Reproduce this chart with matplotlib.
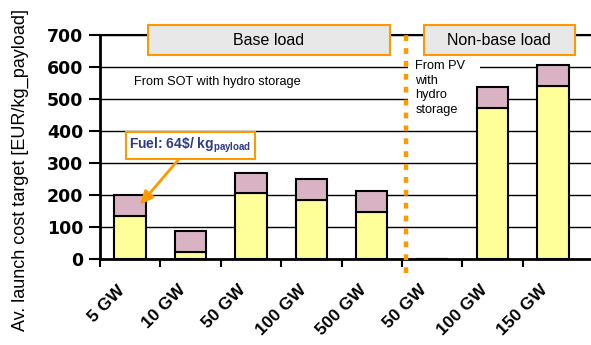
import matplotlib
matplotlib.use("Agg")
import matplotlib.pyplot as plt
from matplotlib.patches import Rectangle
from matplotlib.transforms import ScaledTranslation

plt.rcParams["font.family"] = ["Liberation Sans", "DejaVu Sans"]
plt.rcParams["mathtext.fontset"] = "custom"
plt.rcParams["mathtext.rm"] = "Liberation Sans"
plt.rcParams["mathtext.bf"] = "Liberation Sans:bold"

# Launch cost target per scenario (EUR/kg payload)
categories = ["5 GW", "10 GW", "50 GW", "100 GW", "500 GW", "50 GW", "100 GW", "150 GW"]
base_part = [135, 23, 205, 185, 148, 0, 473, 541]
fuel_part = [64, 64, 64, 64, 64, 0, 64, 64]
y_ticks = [0, 100, 200, 300, 400, 500, 600, 700]

orange = "#ff9900"
yellow = "#ffff99"
pink = "#d9b3c4"

fig = plt.figure(figsize=(5.91, 3.45), dpi=100)
ax = fig.add_axes([100 / 591, 1 - 259 / 345, 491 / 591, 224 / 345])

x = list(range(len(categories)))
ax.bar(x, base_part, width=0.52, color=yellow, edgecolor="black", linewidth=1.5, zorder=3)
ax.bar(x, fuel_part, width=0.52, bottom=base_part, color=pink, edgecolor="black",
       linewidth=1.5, zorder=3)

ax.set_xlim(-0.5, 7.63)
ax.set_ylim(0, 700)
ax.set_yticks(y_ticks)
ax.set_yticklabels([str(v) for v in y_ticks], fontsize=12.5, fontweight="bold",
                   family="DejaVu Sans")
ax.yaxis.grid(True, color="black", linewidth=1.0, zorder=0)
ax.set_axisbelow(True)

# category boundaries carry the tick marks, centres carry the labels
ax.set_xticks([i - 0.5 for i in range(8)])
ax.set_xticklabels([])
ax.set_xticks(x, minor=True)
ax.set_xticklabels(categories, minor=True, fontsize=12.5, fontweight="bold",
                   rotation=45, ha="right", va="top", rotation_mode="anchor")
ax.tick_params(axis="x", which="major", length=6, width=1.5, direction="out")
ax.tick_params(axis="x", which="minor", length=0, pad=17)
ax.tick_params(axis="y", length=8, width=1.5, pad=4)
shift = ScaledTranslation(-0.13, 0, fig.dpi_scale_trans)
for lbl in ax.get_xticklabels(minor=True):
    lbl.set_transform(lbl.get_transform() + shift)

ax.spines["right"].set_visible(False)
ax.spines["top"].set_linewidth(1.5)
ax.spines["left"].set_linewidth(2)
ax.spines["bottom"].set_linewidth(2)

fig.text(20 / 591, 0.507, "Av. launch cost target [EUR/kg_payload]", rotation=90,
         ha="center", va="center", fontsize=13)

# section headers
for x0, x1, label in [(0.295, 4.30, "Base load"), (4.86, 7.36, "Non-base load")]:
    ax.add_patch(Rectangle((x0, 637), x1 - x0, 94, facecolor="#e8e8e8", edgecolor=orange,
                           linewidth=1.5, clip_on=False, zorder=5))
    ax.text((x0 + x1) / 2, 684, label, ha="center", va="center", fontsize=11.5, zorder=6)

# separator between base and non-base scenarios
ax.plot([4.57, 4.57], [-44, 706], color=orange, linewidth=3.2,
        linestyle=(0, (1.3, 1.6)), dash_capstyle="butt", clip_on=False, zorder=4)

ax.text(0.07, 553, "From SOT with hydro storage", ha="left", va="center", fontsize=9.2)
ax.add_patch(Rectangle((4.6, 420), 1.2, 220, facecolor="white", edgecolor="none", zorder=1))
ax.text(4.72, 622, "From PV\nwith\nhydro\nstorage", ha="left", va="top", fontsize=9.2,
        linespacing=1.3, zorder=2)

ax.annotate(r"Fuel: 64\$/ kg$_{\mathbf{payload}}$", xy=(0.16, 169), xytext=(1.0, 355),
            ha="center", va="center", fontsize=10, fontweight="bold", color="#2e3a87",
            bbox=dict(boxstyle="square,pad=0.25", facecolor="white", edgecolor=orange,
                      linewidth=1.5),
            arrowprops=dict(arrowstyle="-|>,head_width=0.35,head_length=0.8", color=orange,
                            linewidth=2, shrinkA=0, shrinkB=0),
            zorder=6)

fig.savefig("out.png", dpi=100)
